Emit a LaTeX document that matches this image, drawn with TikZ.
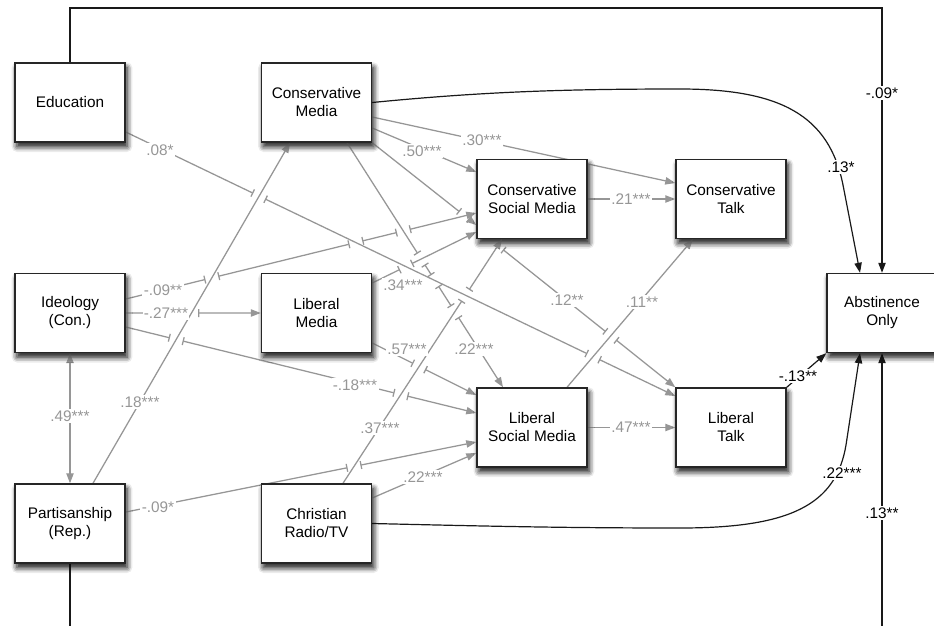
\documentclass[tikz,border=0pt]{standalone}
\usepackage{fontspec}
\setmainfont{Liberation Sans}
\usetikzlibrary{arrows.meta,calc,shadows.blur}
\definecolor{lgray}{RGB}{150,150,150}
\definecolor{tgray}{RGB}{150,150,150}
\definecolor{dk}{RGB}{25,25,25}
\newcommand\mkhop[5]{%
  \coordinate (#1) at (intersection of #2--#3 and #4--#5);
  \coordinate (#1a) at ($(#1)!4.9pt!(#2)$);
  \coordinate (#1b) at ($(#1)!4.9pt!(#3)$);
}
\begin{document}
\begin{tikzpicture}[x=0.75pt,y=-0.75pt,
  font=\fontsize{11.5}{13.5}\selectfont,
  box/.style={draw=black!85, line width=1.1pt, fill=white, minimum width=82.5pt,
    minimum height=59.25pt, align=center, inner sep=0pt,
    blur shadow={shadow xshift=1.5pt, shadow yshift=-3.5pt, shadow blur radius=4pt, shadow opacity=60}},
  gl/.style={draw=lgray, line width=0.95pt},
  ga/.style={gl, -{Triangle[length=7.5pt,width=5.5pt]}},
  gaa/.style={gl, {Triangle[length=7.5pt,width=5.5pt]}-{Triangle[length=7.5pt,width=5.5pt]}},
  gs/.style={gl, -{Bar[width=6pt]}},
  gm/.style={gl, {Bar[width=6pt]}-{Bar[width=6pt]}},
  ge/.style={gl, {Bar[width=6pt]}-{Triangle[length=7.5pt,width=5.5pt]}},
  ba/.style={draw=dk, line width=0.9pt, -{Triangle[length=7.5pt,width=5.5pt]}},
  lbl/.style={fill=white, inner sep=1pt, text=tgray},
  blbl/.style={fill=white, inner sep=1pt, text=black}]
\useasboundingbox (0,0) rectangle (934,625);
\clip (0,0) rectangle (934,625);

% nodes (drawn first to get anchors; redrawn on top later)
\path
  (70,102.5) node[box] (Edu) {Education}
  (316.5,102.5) node[box] (CM) {Conservative\\Media}
  (532,199) node[box] (CSM) {Conservative\\Social Media}
  (731,199) node[box] (CT) {Conservative\\Talk}
  (70,313) node[box] (Ideo) {Ideology\\(Con.)}
  (316.5,313) node[box] (LM) {Liberal\\Media}
  (882,313) node[box] (Abst) {Abstinence\\Only}
  (532,427.5) node[box] (LSM) {Liberal\\Social Media}
  (731,427.5) node[box] (LT) {Liberal\\Talk}
  (70,523.5) node[box] (Part) {Partisanship\\(Rep.)}
  (316.5,523.5) node[box] (CR) {Christian\\Radio/TV};

% line end points
\coordinate (eS) at (Edu.east |- 0,132);   \coordinate (eT) at (LT.west |- 0,396);
\coordinate (p18S) at (Part.north -| 93,0); \coordinate (p18T) at (CM.south -| 290,0);
\coordinate (p11S) at (LSM.north -| 567,0); \coordinate (p11T) at (CT.south -| 693,0);
\coordinate (n9S) at (Ideo.east |- 0,299);  \coordinate (n9T) at (CSM.west |- 0,213);
\coordinate (n27S) at (Ideo.east |- 0,313); \coordinate (n27T) at (LM.west |- 0,313);
\coordinate (n18S) at (Ideo.east |- 0,327); \coordinate (n18T) at (LSM.west |- 0,413);
\coordinate (p09S) at (Part.east |- 0,512); \coordinate (p09T) at (LSM.west |- 0,442);
\coordinate (p37S) at (CR.north -| 343,0);  \coordinate (p37T) at (CSM.south -| 502,0);
\coordinate (p22S) at (CM.south -| 347,0);  \coordinate (p22T) at (LSM.north -| 503,0);
\coordinate (p34S) at (LM.east |- 0,283);   \coordinate (p34T) at (CSM.west |- 0,232);
\coordinate (p57S) at (LM.east |- 0,343);   \coordinate (p57T) at (LSM.west |- 0,395);
\coordinate (pdS) at (CM.south east);       \coordinate (pdT) at (CSM.west |- 0,225);
\coordinate (p12S) at (CSM.south -| 490,0); \coordinate (p12T) at (LT.north west);
\coordinate (p30S) at (CM.east |- 0,117);   \coordinate (p30T) at (CT.west |- 0,183);
\coordinate (p50S) at (CM.east |- 0,128);   \coordinate (p50T) at (CSM.west |- 0,172);
\coordinate (c22S) at (CR.east |- 0,498);   \coordinate (c22T) at (LSM.west |- 0,453);

% hops
\mkhop{hA}{eS}{eT}{p18S}{p18T}
\mkhop{hB}{eS}{eT}{p11S}{p11T}
\mkhop{hC}{n9S}{n9T}{p18S}{p18T}
\mkhop{hD}{n9S}{n9T}{eS}{eT}
\mkhop{hE}{n9S}{n9T}{p22S}{p22T}
\mkhop{hF}{n27S}{n27T}{p18S}{p18T}
\mkhop{hG}{n18S}{n18T}{p18S}{p18T}
\mkhop{hH}{n18S}{n18T}{p37S}{p37T}
\mkhop{hI}{p09S}{p09T}{p37S}{p37T}
\mkhop{hJ}{p37S}{p37T}{eS}{eT}
\mkhop{hK}{p22S}{p22T}{p34S}{p34T}
\mkhop{hL}{p22S}{p22T}{eS}{eT}
\mkhop{hM}{p22S}{p22T}{p37S}{p37T}
\mkhop{hN}{p34S}{p34T}{eS}{eT}
\mkhop{hO}{p57S}{p57T}{p37S}{p37T}
\mkhop{hP}{pdS}{pdT}{n9S}{n9T}
\mkhop{hQ}{p12S}{p12T}{p37S}{p37T}
\mkhop{hR}{p12S}{p12T}{p11S}{p11T}

% gray connectors
\draw[gs] (eS) -- (hAa); \draw[gm] (hAb) -- (hBa); \draw[ge] (hBb) -- (eT);
\draw[gs] (n9S) -- (hCa); \draw[gm] (hCb) -- (hDa); \draw[gm] (hDb) -- (hEa); \draw[ge] (hEb) -- (n9T);
\draw[gs] (n27S) -- (hFa); \draw[ge] (hFb) -- (n27T);
\draw[gs] (n18S) -- (hGa); \draw[gm] (hGb) -- (hHa); \draw[ge] (hHb) -- (n18T);
\draw[gs] (p09S) -- (hIa); \draw[ge] (hIb) -- (p09T);
\draw[gs] (p37S) -- (hJa); \draw[ge] (hJb) -- (p37T);
\draw[gs] (p22S) -- (hKa); \draw[gm] (hKb) -- (hLa); \draw[gm] (hLb) -- (hMa); \draw[ge] (hMb) -- (p22T);
\draw[gs] (p34S) -- (hNa); \draw[ge] (hNb) -- (p34T);
\draw[gs] (p57S) -- (hOa); \draw[ge] (hOb) -- (p57T);
\draw[gs] (pdS) -- (hPa); \draw[ge] (hPb) -- (pdT);
\draw[gm] (hQb) -- (hRa); \draw[ge] (hRb) -- (p12T);
\draw[ga] (p11S) -- (p11T);
\draw[ga] (p18S) -- (p18T);
\draw[ga] (p30S) -- (p30T);
\draw[ga] (p50S) -- (p50T);
\draw[ga] (CSM.east) -- (CT.west);
\draw[ga] (LSM.east) -- (LT.west);
\draw[ga] (c22S) -- (c22T);
\draw[gaa] (Ideo.south) -- (Part.north);

% black connectors
\draw[ba] (Edu.north) -- (Edu.north |- 0,8) -- (Abst.north |- 0,8) -- (Abst.north);
\draw[ba] (Part.south) -- (Part.south |- 0,660) -- (Abst.south |- 0,660) -- (Abst.south);
\draw[ba] (CM.east) .. controls (480,92) and (560,89) .. (680,89)
  .. controls (780,89) and (829,115) .. (843,185) -- (Abst.north -| 860,0);
\draw[ba] (CR.east) .. controls (480,526) and (560,528) .. (680,528)
  .. controls (790,528) and (836,505) .. (846,445) -- (Abst.south -| 860,0);
\draw[ba] (LT.north east) -- (Abst.south west);

% gray labels
\node[lbl] (l1) at (160,150) {.08*};
\node[lbl] (l2) at (482,140) {.30***};
\node[lbl] (l3) at (422,151) {.50***};
\node[lbl] (l4) at (631,199) {.21***};
\node[lbl] (l5) at (403,285) {.34***};
\node[lbl] (l6) at (163,290) {-.09**};
\node[lbl] (l7) at (166,313) {-.27***};
\node[lbl] (l8) at (140,402) {.18***};
\node[lbl] (l9) at (70,416) {.49***};
\node[lbl] (l10) at (355,385) {-.18***};
\node[lbl] (l11) at (407,349) {.57***};
\node[lbl] (l12) at (474,349) {.22***};
\node[lbl] (l13) at (567,300) {.12**};
\node[lbl] (l14) at (642,302) {.11**};
\node[lbl] (l15) at (380,428) {.37***};
\node[lbl] (l16) at (423,477) {.22***};
\node[lbl] (l17) at (158,507) {-.09*};
\node[lbl] (l18) at (631,427.5) {.47***};

% black labels
\node[blbl] (b1) at (882,93) {-.09*};
\node[blbl] (b2) at (841,167) {.13*};
\node[blbl] (b3) at (842,473) {.22***};
\node[blbl] (b4) at (882,513) {.13**};
\node[blbl] (b5) at (798,376) {-.13**};

% boxes on top
\path
  (70,102.5) node[box] {Education}
  (316.5,102.5) node[box] {Conservative\\Media}
  (532,199) node[box] {Conservative\\Social Media}
  (731,199) node[box] {Conservative\\Talk}
  (70,313) node[box] {Ideology\\(Con.)}
  (316.5,313) node[box] {Liberal\\Media}
  (882,313) node[box] {Abstinence\\Only}
  (532,427.5) node[box] {Liberal\\Social Media}
  (731,427.5) node[box] {Liberal\\Talk}
  (70,523.5) node[box] {Partisanship\\(Rep.)}
  (316.5,523.5) node[box] {Christian\\Radio/TV};
\end{tikzpicture}
\end{document}
